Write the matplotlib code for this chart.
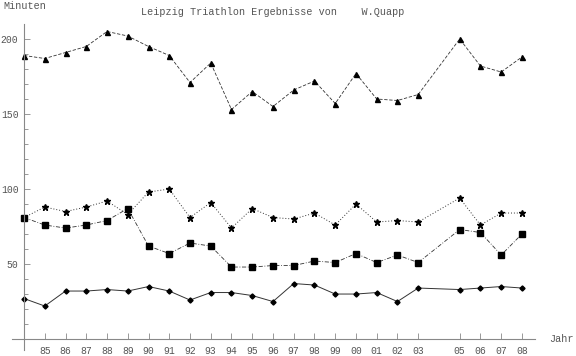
import matplotlib
matplotlib.use('Agg')
import matplotlib.pyplot as plt
import numpy as np

################################
## DATA:                      ##

years = [84, 85, 86, 87, 88, 89, 90, 91, 92, 93, 94, 95, 96, 97, 98, 99,
         100, 101, 102, 103, 105, 106, 107, 108]
year_labels = ['85', '86', '87', '88', '89', '90', '91', '92', '93', '94',
               '95', '96', '97', '98', '99', '00', '01', '02', '03',
               '05', '06', '07', '08']

gesamt = [189, 187, 191, 195, 205, 202, 195, 189, 171, 184, 153, 165, 155,
          166, 172, 157, 177, 160, 159, 163, 200, 182, 178, 188]
rad = [81, 88, 85, 88, 92, 83, 98, 100, 81, 91, 74, 87, 81, 80, 84, 76,
       90, 78, 79, 78, 94, 76, 84, 84]
lauf = [81, 76, 74, 76, 79, 87, 62, 57, 64, 62, 48, 48, 49, 49, 52, 51,
        57, 51, 56, 51, 73, 71, 56, 70]
schwimm = [27, 22, 32, 32, 33, 32, 35, 32, 26, 31, 31, 29, 25, 37, 36, 30,
           30, 31, 25, 34, 33, 34, 35, 34]

################################
## SETUP:                     ##

FONT = ['Liberation Mono', 'DejaVu Sans Mono']
TXT_COLOR = '#555555'
LINE_COLOR = '#333333'

fig = plt.figure(figsize=(5.76, 3.56), dpi=100)
W, H = 576.0, 356.0
ax = fig.add_axes([12 / W, 6 / H, (535 - 12) / W, (350 - 24) / H])

ax.set_xlim(83.42, 108.63)
ax.set_ylim(-7.3, 210)

for side in ['top', 'right']:
    ax.spines[side].set_visible(False)
ax.spines['left'].set_position(('data', 84))
ax.spines['bottom'].set_position(('data', 0))
for side in ['left', 'bottom']:
    ax.spines[side].set_color('#888888')
    ax.spines[side].set_linewidth(0.8)

################################
## LINES:                     ##

ax.plot(years, gesamt, linestyle=(0, (4, 2)), color=LINE_COLOR, linewidth=0.6,
        marker='^', markersize=3.6, markerfacecolor='k', markeredgecolor='k')
ax.plot(years, rad, linestyle=(0, (1, 2)), color=LINE_COLOR, linewidth=0.7,
        marker='*', markersize=4.8, markerfacecolor='k', markeredgecolor='k')
ax.plot(years, lauf, linestyle=(0, (5, 2, 1, 2)), color=LINE_COLOR, linewidth=0.6,
        marker='s', markersize=4.8, markerfacecolor='k', markeredgecolor='k')
ax.plot(years, schwimm, linestyle='-', color=LINE_COLOR, linewidth=0.7,
        marker='D', markersize=2.6, markerfacecolor='k', markeredgecolor='k')

################################
## TICKS:                     ##

ax.set_xticks(years[1:])
ax.set_xticklabels(year_labels)
ax.set_yticks([50, 100, 150, 200])
ax.set_yticks([y for y in range(10, 210, 10) if y % 50], minor=True)
ax.tick_params(axis='both', which='major', direction='in', length=4, width=0.6,
               color='#888888', labelcolor=TXT_COLOR, labelsize=7)
ax.tick_params(axis='y', which='minor', direction='in', length=3, width=0.6,
               color='#888888')
ax.tick_params(axis='x', pad=5)
ax.tick_params(axis='y', pad=4)
for lbl in ax.get_xticklabels() + ax.get_yticklabels():
    lbl.set_family(FONT)

################################
## TEXT:                      ##

fig.text(273 / W, 1 - 12 / H, 'Leipzig Triathlon Ergebnisse von    W.Quapp',
         ha='center', va='center', fontsize=7.3, color=TXT_COLOR, family=FONT)
fig.text(3 / W, 1 - 6 / H, 'Minuten', ha='left', va='center',
         fontsize=7.3, color=TXT_COLOR, family=FONT)
fig.text(549 / W, 1 - 339 / H, 'Jahr', ha='left', va='center',
         fontsize=7.3, color=TXT_COLOR, family=FONT)

fig.savefig('out.png', dpi=100)
